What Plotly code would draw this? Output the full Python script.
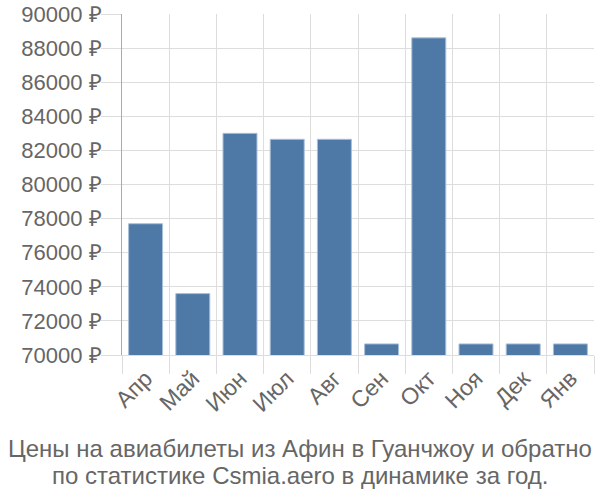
import plotly.graph_objects as go

months = ["Апр", "Май", "Июн", "Июл", "Авг", "Сен", "Окт", "Ноя", "Дек", "Янв"]
prices = [77700, 73600, 83000, 82650, 82650, 70650, 88600, 70650, 70650, 70650]
y_ticks = [70000, 72000, 74000, 76000, 78000, 80000, 82000, 84000, 86000, 88000, 90000]
y_tick_labels = [f"{v} ₽" for v in y_ticks]
title_lines = [
    "Цены на авиабилеты из Афин в Гуанчжоу и обратно",
    "по статистике Csmia.aero в динамике за год.",
]

font_family = "Liberation Sans, Arial, sans-serif"
grid = "#dddddd"
L, R, T, B = 122, 6, 14, 145
W, H = 600, 500
plot_w = W - L - R
plot_h = H - T - B

fig = go.Figure(
    go.Bar(
        x=months,
        y=prices,
        base=0,
        marker=dict(color="#4e79a7", line=dict(color="#a9bfd8", width=1)),
    )
)

title_centers_px = [448, 475]
annotations = []
for line, cy in zip(title_lines, title_centers_px):
    annotations.append(
        dict(
            text=line,
            xref="paper",
            yref="paper",
            x=(W / 2 - L) / plot_w,
            y=(H - B - cy) / plot_h,
            xanchor="center",
            yanchor="middle",
            showarrow=False,
            font=dict(size=24, color="#666666", family=font_family),
        )
    )

fig.update_layout(
    width=W,
    height=H,
    margin=dict(l=L, r=R, t=T, b=B, autoexpand=False),
    plot_bgcolor="white",
    paper_bgcolor="white",
    bargap=0.28,
    showlegend=False,
    font=dict(family=font_family, size=21, color="#666666"),
    xaxis=dict(
        automargin=False,
        tickson="boundaries",
        ticks="outside",
        ticklen=18,
        tickcolor=grid,
        tickwidth=1,
        showgrid=True,
        gridcolor=grid,
        gridwidth=1,
        tickangle=-45,
        tickfont=dict(size=23, color="#666666"),
        showline=True,
        linecolor=grid,
    ),
    yaxis=dict(
        automargin=False,
        range=[70000, 90000],
        tickvals=y_ticks,
        ticktext=y_tick_labels,
        ticks="outside",
        ticklen=20,
        ticklabelstandoff=-5,
        tickcolor=grid,
        showgrid=True,
        gridcolor=grid,
        gridwidth=1,
        zeroline=False,
        showline=True,
        linecolor="#aaaaaa",
        tickfont=dict(size=22, color="#666666"),
    ),
    annotations=annotations,
)

fig.write_html("out.html")
